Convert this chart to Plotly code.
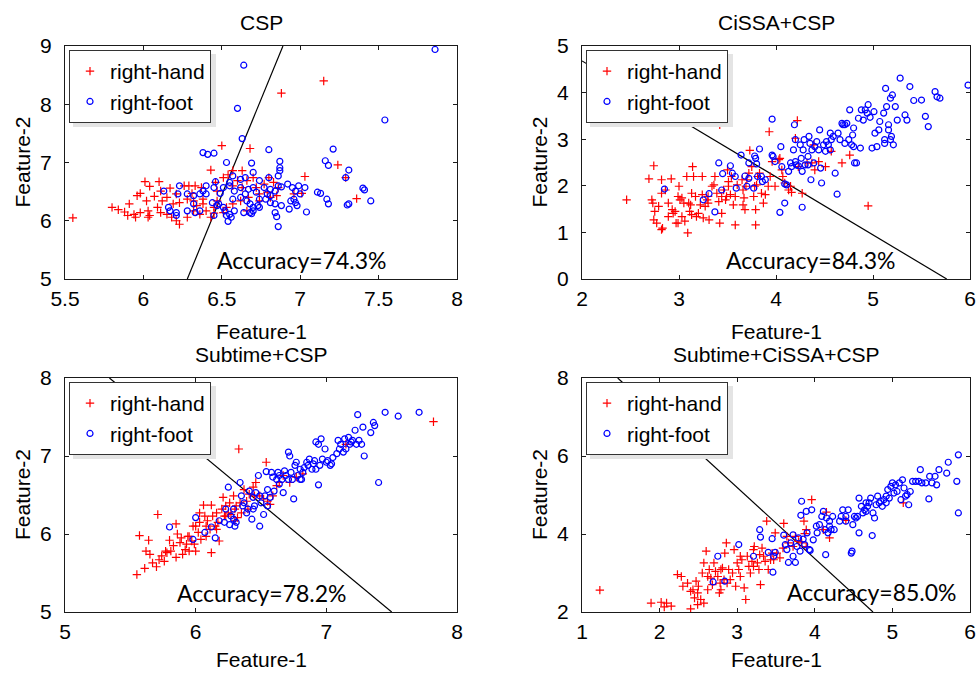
import plotly.graph_objects as go

# ---------------------------------------------------------------------------
# Feature-space scatter of the two motor-imagery classes for four pipelines
# ---------------------------------------------------------------------------
W, H = 979, 674

# --- CSP -------------------------------------------------------------------
csp_hand = [
    (5.55, 6.05), (7.15, 8.40), (6.88, 8.19), (6.50, 7.29), (6.68, 7.24), (6.43, 6.87),
    (6.57, 6.86), (6.63, 6.86), (6.51, 6.74), (6.54, 6.79), (7.03, 6.76), (7.24, 6.96),
    (7.29, 6.74), (7.36, 6.38), (7.01, 6.47), (6.01, 6.67), (6.10, 6.67), (6.04, 6.59),
    (5.98, 6.47), (5.96, 6.43), (6.07, 6.42), (6.02, 6.34), (6.11, 6.51), (6.17, 6.56),
    (6.21, 6.46), (6.26, 6.60), (6.29, 6.60), (6.33, 6.60), (6.37, 6.57), (6.46, 6.66),
    (6.47, 6.51), (6.57, 6.60), (6.60, 6.69), (6.63, 6.57), (6.66, 6.69), (6.70, 6.74),
    (6.77, 6.63), (6.80, 6.74), (6.79, 6.49), (5.80, 6.23), (5.84, 6.19), (5.88, 6.15),
    (5.91, 6.29), (5.94, 6.11), (5.98, 6.14), (6.03, 6.17), (6.04, 6.09), (6.09, 6.23),
    (6.12, 6.34), (6.15, 6.40), (6.19, 6.29), (6.23, 6.31), (6.28, 6.37), (6.32, 6.34),
    (6.34, 6.26), (6.38, 6.29), (6.40, 6.17), (6.45, 6.23), (6.47, 6.34), (6.53, 6.23),
    (6.51, 6.14), (6.57, 6.29), (6.62, 6.34), (6.67, 6.40), (6.74, 6.34), (6.85, 6.43),
    (6.74, 6.46), (6.21, 6.00), (6.23, 5.94), (6.28, 6.06), (6.36, 6.11), (6.03, 6.06),
    (6.15, 6.11), (5.90, 6.09), (5.95, 6.06), (6.18, 6.06), (6.32, 6.17), (6.43, 6.06),
    (6.45, 6.13), (6.11, 6.14), (6.31, 6.47), (6.38, 6.37), (6.72, 6.57), (6.81, 6.40),
    (6.96, 6.46), (6.66, 6.17), (6.83, 6.66), (6.86, 6.57),
]
csp_foot = [
    (7.86, 8.94), (6.64, 8.67), (6.60, 7.93), (7.54, 7.73), (6.63, 7.41), (6.38, 7.17),
    (6.41, 7.14), (6.45, 7.16), (6.80, 7.22), (7.21, 7.23), (7.16, 7.03), (7.18, 6.95),
    (7.31, 6.87), (7.29, 6.74), (6.53, 7.00), (6.69, 6.99), (6.87, 7.02), (6.87, 6.91),
    (6.87, 6.86), (6.86, 6.77), (6.80, 6.74), (6.70, 6.83), (6.65, 6.74), (6.62, 6.71),
    (6.57, 6.77), (6.55, 6.66), (6.46, 6.67), (6.40, 6.60), (6.40, 6.46), (6.23, 6.60),
    (6.22, 6.46), (6.28, 6.46), (6.13, 6.51), (6.32, 6.43), (6.36, 6.46), (6.38, 6.51),
    (6.45, 6.57), (6.49, 6.47), (6.51, 6.57), (6.55, 6.60), (6.58, 6.51), (6.62, 6.57),
    (6.65, 6.46), (6.67, 6.54), (6.70, 6.57), (6.72, 6.49), (6.74, 6.69), (6.77, 6.57),
    (6.79, 6.46), (6.81, 6.54), (6.84, 6.51), (6.86, 6.60), (6.88, 6.58), (6.92, 6.63),
    (6.95, 6.57), (6.97, 6.51), (6.99, 6.60), (7.03, 6.57), (7.00, 6.46), (6.96, 6.37),
    (6.94, 6.34), (6.97, 6.31), (7.11, 6.49), (7.13, 6.47), (7.17, 6.37), (7.18, 6.29),
    (7.30, 6.27), (7.31, 6.29), (7.40, 6.56), (7.41, 6.53), (7.45, 6.34), (6.66, 6.34),
    (6.68, 6.29), (6.70, 6.23), (6.73, 6.26), (6.74, 6.37), (6.78, 6.37), (6.81, 6.31),
    (6.84, 6.29), (6.88, 6.26), (6.93, 6.20), (6.98, 6.26), (7.04, 6.15), (6.68, 6.14),
    (6.69, 6.12), (6.70, 6.17), (6.64, 6.14), (6.58, 6.17), (6.55, 6.11), (6.52, 6.17),
    (6.51, 6.23), (6.47, 6.26), (6.44, 6.31), (6.45, 6.09), (6.36, 6.17), (6.33, 6.14),
    (6.28, 6.17), (6.21, 6.14), (6.17, 6.17), (6.16, 6.23), (6.21, 6.09), (6.53, 6.09),
    (6.54, 5.99), (6.56, 6.06), (6.84, 6.14), (6.85, 6.07), (6.86, 5.90), (6.74, 6.23),
    (6.32, 6.29), (6.48, 6.29), (6.81, 6.43), (6.62, 6.40), (6.57, 6.37),
]

# --- CiSSA+CSP ---------------------------------------------------------------
cissa_hand = [
    (2.46, 1.70), (2.69, 2.15), (2.74, 2.43), (2.72, 1.70), (2.73, 1.63), (2.74, 1.27),
    (2.77, 1.20), (2.75, 1.45), (2.82, 1.06), (2.83, 1.09), (2.82, 2.13), (2.82, 1.84),
    (2.86, 1.91), (2.92, 2.15), (2.89, 1.63), (2.93, 1.49), (2.94, 1.41), (2.96, 1.45),
    (2.97, 1.20), (2.99, 1.77), (3.00, 1.99), (3.01, 1.70), (3.03, 1.74), (3.05, 1.63),
    (2.99, 1.20), (3.06, 1.24), (3.09, 0.99), (3.08, 2.20), (3.10, 1.63), (3.11, 1.45),
    (3.12, 1.59), (3.13, 1.38), (3.14, 2.41), (3.15, 2.20), (3.13, 1.84), (3.17, 1.77),
    (3.18, 1.34), (3.20, 1.41), (3.22, 1.59), (3.24, 1.81), (3.24, 2.20), (3.25, 1.31),
    (3.27, 1.56), (3.29, 1.70), (3.30, 1.77), (3.31, 1.27), (3.34, 1.99), (3.36, 2.02),
    (3.37, 2.20), (3.39, 1.84), (3.41, 1.66), (3.42, 1.20), (3.42, 3.31), (3.44, 1.41),
    (3.46, 1.91), (3.48, 1.70), (3.49, 1.77), (3.51, 1.99), (3.50, 2.34), (3.51, 2.09),
    (3.53, 1.81), (3.54, 2.20), (3.56, 1.59), (3.58, 1.16), (3.60, 2.02), (3.65, 2.13),
    (3.66, 1.59), (3.68, 1.49), (3.67, 1.74), (3.69, 1.99), (3.70, 2.13), (3.72, 2.27),
    (3.73, 2.76), (3.75, 2.41), (3.77, 1.77), (3.79, 1.16), (3.78, 1.99), (3.80, 2.02),
    (3.81, 2.20), (3.83, 2.27), (3.85, 1.84), (3.87, 1.63), (3.89, 1.81), (3.92, 1.99),
    (3.93, 3.16), (3.94, 2.20), (3.96, 2.52), (3.99, 1.99), (4.03, 2.56), (4.04, 2.59),
    (4.06, 2.34), (4.07, 2.20), (4.09, 2.06), (4.13, 1.91), (4.15, 1.99), (4.16, 1.86),
    (4.20, 3.02), (4.22, 3.40), (4.23, 2.41), (4.27, 1.84), (4.32, 2.49), (4.37, 2.49),
    (4.39, 2.88), (4.40, 2.34), (4.44, 2.52), (4.51, 2.41), (4.57, 2.74), (4.68, 2.49),
    (4.76, 2.66), (4.95, 1.57), (3.79, 1.49), (3.66, 1.91), (3.58, 1.77), (3.44, 1.77),
    (3.30, 1.63), (3.03, 1.34), (2.89, 1.34), (2.79, 1.56),
]
cissa_foot = [
    (2.85, 1.93), (3.25, 1.70), (3.31, 1.83), (3.37, 1.44), (3.41, 2.49), (3.44, 1.91),
    (3.45, 2.26), (3.53, 2.43), (3.55, 2.27), (3.58, 2.20), (3.59, 1.95), (3.64, 2.66),
    (3.68, 2.21), (3.70, 1.99), (3.72, 2.16), (3.72, 2.49), (3.77, 1.95), (3.78, 2.64),
    (3.79, 2.59), (3.80, 2.47), (3.81, 2.20), (3.83, 2.79), (3.85, 2.20), (3.86, 2.09),
    (3.89, 2.13), (3.96, 2.66), (3.96, 3.43), (3.97, 2.63), (4.04, 1.43), (4.05, 2.84),
    (4.06, 2.41), (4.09, 2.04), (4.09, 1.63), (4.11, 2.02), (4.13, 2.31), (4.15, 2.49),
    (4.16, 2.41), (4.18, 2.77), (4.19, 3.31), (4.20, 2.99), (4.21, 2.45), (4.23, 2.43),
    (4.25, 2.88), (4.26, 2.59), (4.27, 2.31), (4.27, 1.54), (4.28, 2.77), (4.29, 2.99),
    (4.30, 2.45), (4.33, 2.45), (4.34, 3.06), (4.35, 2.91), (4.36, 2.13), (4.37, 2.77),
    (4.39, 2.49), (4.40, 2.84), (4.42, 2.95), (4.44, 2.77), (4.45, 3.20), (4.46, 2.38),
    (4.47, 2.06), (4.49, 2.88), (4.51, 2.74), (4.52, 2.95), (4.54, 2.88), (4.56, 2.77),
    (4.57, 2.99), (4.59, 3.06), (4.61, 2.27), (4.63, 1.82), (4.64, 3.13), (4.66, 2.99),
    (4.68, 3.34), (4.69, 3.31), (4.71, 3.31), (4.73, 3.34), (4.75, 2.99), (4.76, 3.63),
    (4.78, 2.88), (4.79, 3.09), (4.80, 3.24), (4.80, 2.84), (4.81, 2.49), (4.83, 2.49),
    (4.85, 3.45), (4.87, 2.81), (4.88, 3.63), (4.90, 3.41), (4.92, 3.63), (4.94, 3.56),
    (4.95, 3.74), (4.97, 3.47), (4.99, 2.81), (5.01, 3.59), (5.02, 3.13), (5.04, 2.84),
    (5.07, 3.38), (5.11, 3.56), (5.12, 2.91), (5.13, 4.09), (5.14, 3.70), (5.16, 3.20),
    (5.16, 3.31), (5.18, 3.88), (5.19, 3.06), (5.20, 3.95), (5.21, 2.88), (5.23, 3.70),
    (5.25, 3.41), (5.28, 4.31), (5.33, 3.52), (5.35, 3.41), (5.38, 4.13), (5.42, 3.83),
    (5.50, 3.84), (5.54, 3.49), (5.57, 3.27), (5.64, 4.02), (5.66, 3.91), (5.69, 3.88),
    (5.98, 4.16), (5.12, 2.99), (5.18, 2.99), (5.06, 3.20), (4.71, 2.91), (4.56, 3.13),
    (4.33, 2.63), (3.99, 2.52), (4.20, 2.52),
]

# --- Subtime+CSP ---------------------------------------------------------------
subtime_hand = [
    (5.55, 5.48), (5.61, 5.56), (5.57, 5.98), (5.64, 5.92), (5.65, 5.74), (5.67, 5.63),
    (5.70, 5.58), (5.71, 6.25), (5.72, 5.67), (5.74, 5.72), (5.76, 5.65), (5.77, 5.78),
    (5.80, 5.92), (5.81, 5.78), (5.83, 5.85), (5.85, 6.13), (5.85, 5.70), (5.86, 6.00),
    (5.88, 5.89), (5.89, 5.95), (5.90, 5.74), (5.92, 5.80), (5.93, 5.87), (5.94, 5.97),
    (5.95, 5.78), (5.97, 5.91), (5.98, 6.10), (5.99, 5.87), (6.00, 5.78), (6.02, 6.02),
    (6.03, 6.15), (6.04, 5.93), (6.06, 6.37), (6.07, 6.23), (6.08, 5.97), (6.08, 6.10),
    (6.09, 6.17), (6.11, 6.06), (6.12, 5.76), (6.12, 6.37), (6.13, 6.23), (6.15, 6.10),
    (6.16, 6.27), (6.17, 6.15), (6.18, 5.91), (6.20, 6.32), (6.21, 6.47), (6.22, 6.23),
    (6.23, 6.36), (6.25, 6.27), (6.26, 6.40), (6.27, 6.25), (6.29, 6.49), (6.30, 6.32),
    (6.31, 6.36), (6.32, 6.21), (6.33, 7.09), (6.34, 6.40), (6.35, 6.27), (6.37, 6.57),
    (6.39, 6.42), (6.40, 6.32), (6.41, 6.51), (6.44, 6.60), (6.45, 6.49), (6.46, 6.66),
    (6.49, 6.49), (6.52, 6.45), (6.54, 6.92), (6.55, 6.42), (6.57, 6.38), (6.59, 6.49),
    (6.62, 6.62), (6.64, 6.66), (6.67, 6.75), (6.72, 6.66), (6.77, 6.73), (6.82, 6.77),
    (7.15, 7.15), (7.82, 7.44), (6.23, 6.23), (6.16, 6.06), (6.00, 6.10), (5.78, 5.76),
    (5.62, 5.78), (5.95, 5.97), (6.03, 6.27), (6.30, 6.17),
]
subtime_foot = [
    (5.80, 6.09), (5.98, 5.93), (6.00, 6.21), (6.07, 6.02), (6.12, 6.09), (6.15, 5.95),
    (6.18, 6.17), (6.22, 6.15), (6.23, 6.32), (6.25, 6.60), (6.26, 6.12), (6.27, 6.23),
    (6.29, 6.32), (6.30, 6.10), (6.31, 6.15), (6.34, 6.66), (6.35, 6.49), (6.36, 6.36),
    (6.37, 6.40), (6.39, 6.27), (6.40, 6.32), (6.41, 6.55), (6.43, 6.19), (6.44, 6.47),
    (6.45, 6.36), (6.46, 6.53), (6.48, 6.75), (6.49, 6.49), (6.49, 6.10), (6.50, 6.40),
    (6.52, 6.25), (6.53, 6.49), (6.54, 6.80), (6.55, 6.57), (6.55, 6.36), (6.57, 6.47),
    (6.58, 6.79), (6.59, 6.73), (6.60, 6.55), (6.62, 6.70), (6.63, 6.79), (6.64, 6.75),
    (6.66, 6.70), (6.67, 6.53), (6.68, 6.81), (6.69, 6.75), (6.71, 6.70), (6.71, 7.05),
    (6.72, 7.00), (6.73, 6.79), (6.74, 6.70), (6.75, 6.45), (6.76, 6.88), (6.77, 6.92),
    (6.78, 6.75), (6.80, 6.83), (6.81, 6.70), (6.82, 6.79), (6.83, 6.85), (6.85, 6.92),
    (6.86, 6.88), (6.87, 6.96), (6.89, 6.83), (6.90, 6.90), (6.91, 6.94), (6.92, 7.18),
    (6.92, 6.83), (6.94, 6.63), (6.94, 7.15), (6.95, 6.88), (6.96, 7.22), (6.97, 6.96),
    (6.99, 7.09), (7.00, 6.92), (7.01, 6.94), (7.03, 6.88), (7.04, 6.90), (7.05, 6.98),
    (7.08, 7.03), (7.09, 7.20), (7.10, 7.09), (7.11, 7.15), (7.13, 7.05), (7.14, 7.22),
    (7.15, 7.09), (7.17, 7.24), (7.18, 7.15), (7.19, 7.18), (7.20, 7.20), (7.22, 7.33),
    (7.23, 7.15), (7.24, 7.53), (7.25, 7.20), (7.27, 7.15), (7.28, 7.37), (7.29, 7.00),
    (7.34, 7.30), (7.36, 7.43), (7.37, 7.39), (7.40, 6.66), (7.45, 7.56), (7.55, 7.51),
    (7.71, 7.56), (6.80, 6.70), (6.64, 6.64), (6.44, 6.32), (6.29, 6.19),
]

# --- Subtime+CiSSA+CSP ------------------------------------------------------------
full_hand = [
    (1.23, 2.56), (1.89, 2.23), (2.02, 2.25), (2.06, 2.13), (2.09, 2.23), (2.15, 2.15),
    (2.23, 2.96), (2.28, 2.91), (2.36, 2.74), (2.40, 2.08), (2.40, 2.53), (2.43, 2.57),
    (2.45, 2.36), (2.47, 2.79), (2.49, 2.19), (2.50, 2.66), (2.53, 2.32), (2.55, 3.00),
    (2.57, 2.23), (2.60, 3.56), (2.57, 3.26), (2.62, 2.57), (2.64, 3.09), (2.66, 2.87),
    (2.68, 2.70), (2.70, 3.26), (2.72, 3.04), (2.75, 2.91), (2.77, 2.49), (2.78, 2.74),
    (2.79, 2.57), (2.81, 3.13), (2.83, 2.83), (2.84, 3.51), (2.86, 3.77), (2.87, 2.74),
    (2.89, 3.09), (2.91, 2.83), (2.94, 3.00), (2.96, 3.60), (2.98, 2.66), (3.00, 3.26),
    (3.02, 3.09), (3.04, 2.91), (3.06, 3.34), (3.09, 2.62), (3.11, 2.32), (3.13, 3.43),
    (3.15, 3.17), (3.17, 3.00), (3.19, 3.30), (3.21, 3.60), (3.22, 3.68), (3.26, 3.26),
    (3.28, 3.09), (3.29, 3.47), (3.30, 2.70), (3.32, 3.64), (3.34, 3.43), (3.36, 3.30),
    (3.38, 4.33), (3.40, 3.09), (3.43, 3.34), (3.45, 3.51), (3.47, 3.34), (3.49, 4.03),
    (3.51, 3.51), (3.55, 3.39), (3.59, 3.64), (3.60, 4.27), (3.64, 3.94), (3.66, 3.77),
    (3.72, 3.68), (3.75, 3.94), (3.79, 3.81), (3.83, 3.77), (3.86, 4.33), (3.87, 4.01),
    (3.89, 4.11), (3.89, 3.68), (3.96, 4.88), (4.11, 4.11), (4.15, 4.56), (4.19, 3.90),
    (4.40, 4.35), (5.14, 4.80), (3.04, 3.43), (2.79, 3.09), (2.62, 2.91), (2.49, 2.49),
    (2.30, 2.66), (3.21, 3.17),
]
full_foot = [
    (2.69, 2.77), (2.75, 3.43), (2.84, 2.79), (3.02, 3.73), (3.21, 3.43), (3.29, 4.11),
    (3.30, 3.92), (3.40, 3.53), (3.45, 3.88), (3.46, 3.02), (3.47, 3.43), (3.49, 3.53),
    (3.60, 3.97), (3.62, 3.73), (3.64, 3.60), (3.66, 3.27), (3.69, 3.77), (3.72, 3.98),
    (3.72, 3.43), (3.75, 3.27), (3.77, 3.68), (3.79, 3.90), (3.81, 3.56), (3.82, 4.48),
    (3.83, 4.84), (3.85, 3.87), (3.87, 3.73), (3.89, 4.58), (3.90, 4.03), (3.93, 3.60),
    (3.94, 3.58), (3.96, 4.62), (3.98, 3.85), (4.03, 4.03), (4.06, 4.24), (4.09, 4.45),
    (4.11, 4.58), (4.13, 4.11), (4.14, 3.47), (4.15, 4.41), (4.17, 4.03), (4.19, 4.20),
    (4.21, 4.11), (4.23, 4.45), (4.25, 4.11), (4.32, 4.33), (4.34, 4.45), (4.36, 4.62),
    (4.40, 4.33), (4.43, 4.62), (4.47, 3.51), (4.48, 3.56), (4.49, 4.24), (4.51, 4.45),
    (4.53, 4.41), (4.55, 4.45), (4.57, 4.03), (4.57, 4.92), (4.60, 4.71), (4.62, 4.54),
    (4.64, 4.62), (4.66, 4.58), (4.68, 4.71), (4.70, 4.80), (4.72, 4.92), (4.74, 3.96),
    (4.75, 4.54), (4.77, 4.41), (4.79, 4.75), (4.81, 4.97), (4.83, 4.80), (4.85, 4.84),
    (4.87, 4.71), (4.89, 4.88), (4.92, 4.97), (4.94, 5.14), (4.96, 4.92), (4.98, 5.22),
    (5.00, 5.31), (5.02, 5.05), (5.04, 5.26), (5.06, 5.09), (5.09, 5.31), (5.11, 4.88),
    (5.13, 5.39), (5.15, 5.18), (5.17, 4.97), (5.19, 5.01), (5.21, 4.75), (5.23, 5.09),
    (5.26, 5.35), (5.30, 5.35), (5.34, 5.35), (5.36, 5.65), (5.38, 5.31), (5.43, 5.31),
    (5.47, 4.90), (5.48, 5.48), (5.51, 5.31), (5.55, 5.48), (5.57, 5.26), (5.60, 5.65),
    (5.70, 5.56), (5.72, 5.84), (5.83, 5.35), (5.85, 6.03), (5.85, 4.54), (4.92, 4.80),
    (4.66, 4.80), (4.40, 4.45), (4.19, 4.33), (4.02, 4.20),
]

# decision boundaries (two end points each)
boundary_csp = [(6.28, 5.0), (6.89, 9.0)]
boundary_cissa = [(2.0, 4.68), (5.76, 0.0)]
boundary_subtime = [(5.34, 8.0), (7.50, 5.0)]
boundary_full = [(1.46, 8.0), (4.75, 2.0)]

titles = ["CSP", "CiSSA+CSP", "Subtime+CSP", "Subtime+CiSSA+CSP"]
accuracies = ["74.3%", "84.3%", "78.2%", "85.0%"]
x_ranges = [[5.5, 8], [2, 6], [5, 8], [1, 6]]
y_ranges = [[5, 9], [0, 5], [5, 8], [2, 8]]
x_dticks = [0.5, 1, 1, 1]
y_dticks = [1, 1, 1, 2]
class_names = ["right-hand", "right-foot"]

# ---------------------------------------------------------------------------
FONT = "Liberation Sans, Arial, sans-serif"
RED, BLUE = "#FF0000", "#0000FF"


def px(x):
    return x / W


def py(y):
    return 1 - y / H


# plot frames in pixels: (left, right, top, bottom)
frames = [(65, 457, 46, 279), (582, 970, 46, 279),
          (65, 457, 378, 612), (582, 970, 378, 612)]
acc_pos = [(302, 260), (811, 260), (262, 593), (872, 592)]
xlabel_y = [331, 331, 659, 659]

panels = [(csp_hand, csp_foot, boundary_csp),
          (cissa_hand, cissa_foot, boundary_cissa),
          (subtime_hand, subtime_foot, boundary_subtime),
          (full_hand, full_foot, boundary_full)]

fig = go.Figure()
annotations = []
shapes = []
layout = {}


def note(text, x, y, size=21, family=FONT, angle=0):
    return dict(text=text, x=px(x), y=py(y), xref="paper", yref="paper",
                xanchor="center", yanchor="middle", showarrow=False, textangle=angle,
                font=dict(family=family, size=size, color="black"))


for i, (hand, foot, bnd) in enumerate(panels):
    n = "" if i == 0 else str(i + 1)
    xa, ya = "x" + n, "y" + n
    leg = "legend" + n
    l, r, t, b = frames[i]

    fig.add_trace(go.Scatter(
        x=[p[0] for p in bnd], y=[p[1] for p in bnd], mode="lines",
        line=dict(color="black", width=1.2), showlegend=False,
        xaxis=xa, yaxis=ya, hoverinfo="skip"))
    fig.add_trace(go.Scatter(
        x=[p[0] for p in hand], y=[p[1] for p in hand], mode="markers",
        name=class_names[0], legend=leg,
        marker=dict(symbol="cross-thin", size=6, line=dict(color=RED, width=1.2), color=RED),
        xaxis=xa, yaxis=ya))
    fig.add_trace(go.Scatter(
        x=[p[0] for p in foot], y=[p[1] for p in foot], mode="markers",
        name=class_names[1], legend=leg,
        marker=dict(symbol="circle-open", size=6, line=dict(color=BLUE, width=1.2), color=BLUE),
        xaxis=xa, yaxis=ya))

    axis_common = dict(
        showline=True, linecolor="#1a1a1a", linewidth=1, mirror="ticks",
        ticks="inside", ticklen=4, tickcolor="#1a1a1a", showgrid=False, zeroline=False,
        automargin=False, tickfont=dict(family=FONT, size=21, color="black"),
    )
    layout["xaxis" + n] = dict(
        axis_common, domain=[px(l), px(r)], range=x_ranges[i], dtick=x_dticks[i],
        tick0=x_ranges[i][0], anchor=ya, ticklabelstandoff=1)
    layout["yaxis" + n] = dict(
        axis_common, domain=[py(b), py(t)], range=y_ranges[i], dtick=y_dticks[i],
        tick0=y_ranges[i][0], anchor=xa, ticklabelstandoff=8)

    # legend box with a faint drop shadow
    lx, ly = l + 4, t + 4
    layout[leg] = dict(
        x=px(lx), y=py(ly), xanchor="left", yanchor="top",
        bgcolor="white", bordercolor="#333333", borderwidth=1,
        font=dict(family=FONT, size=21, color="black"), tracegroupgap=0,
        itemsizing="trace")
    shapes.append(dict(type="rect", xref="paper", yref="paper", layer="above",
                       x0=px(lx + 4), x1=px(lx + 147), y0=py(ly + 4), y1=py(ly + 77),
                       line=dict(width=0), fillcolor="#e4e4e4"))

    cx = (l + r) / 2
    annotations += [
        note(titles[i], cx, t - 24),
        note("Feature-1", cx, xlabel_y[i]),
        note("Feature-2", l - 43, (t + b) / 2, angle=-90),
        note("Accuracy=" + accuracies[i], acc_pos[i][0], acc_pos[i][1],
             size=23, family="Lato, sans-serif"),
    ]

fig.update_layout(
    width=W, height=H, margin=dict(l=0, r=0, t=0, b=0, autoexpand=False),
    paper_bgcolor="white", plot_bgcolor="white",
    annotations=annotations, shapes=shapes, **layout)

fig.write_html("out.html")
